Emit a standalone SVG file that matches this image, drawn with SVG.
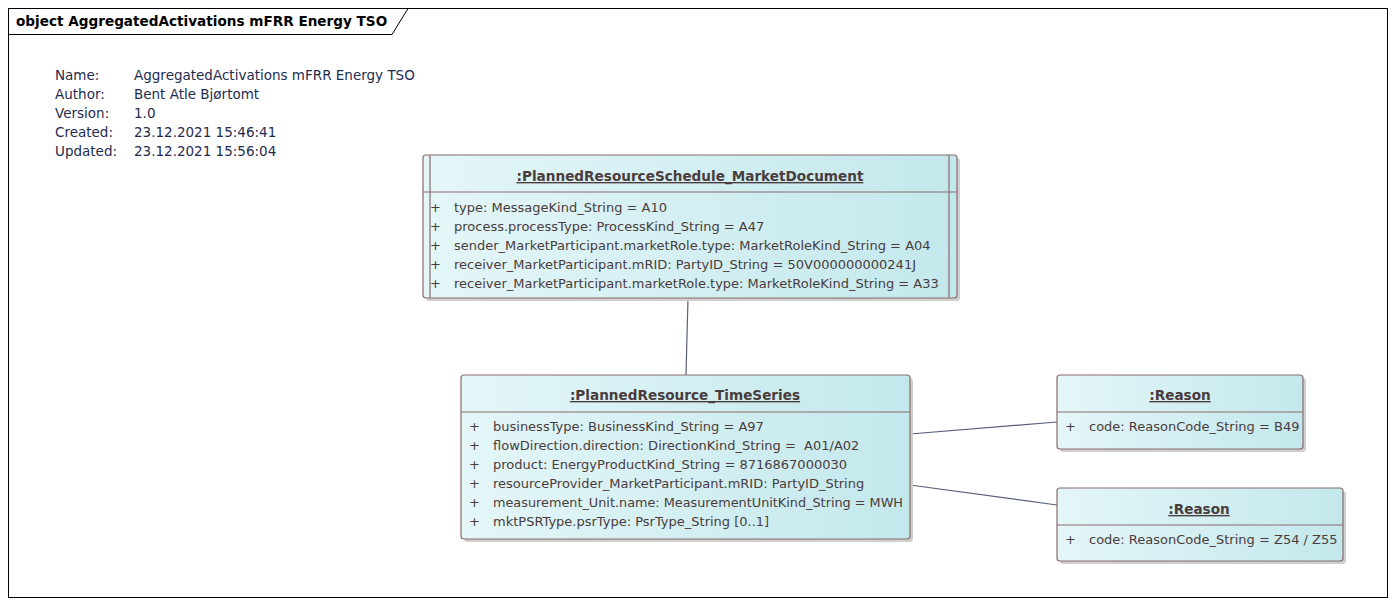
<svg xmlns="http://www.w3.org/2000/svg" width="1396" height="606" viewBox="0 0 1396 606">
<style>
.frame{fill:#fff;stroke:#000;stroke-width:1}
.title{font-family:"DejaVu Sans",sans-serif;font-size:13.6px;font-weight:bold;fill:#000}
.meta{font-family:"DejaVu Sans",sans-serif;font-size:13.5px;fill:#1e2c50}
.box{fill:url(#g);stroke:#8a6c6c;stroke-width:1.2}
.shadow{fill:#cfcfcf}
.div{stroke:#8a6c6c;stroke-width:1.2}
.hdr{font-family:"DejaVu Sans",sans-serif;font-size:13.6px;font-weight:bold;fill:#4a3c3c;text-anchor:middle;text-decoration:underline}
.attr{font-family:"DejaVu Sans",sans-serif;font-size:13px;fill:#4a3c3c}
.conn{stroke:#56607a;stroke-width:1.2;fill:none}
</style>
<defs>
<linearGradient id="g" x1="0" y1="0" x2="1" y2="0">
<stop offset="0" stop-color="#e4f6f8"/>
<stop offset="1" stop-color="#c3e8ec"/>
</linearGradient>
</defs>
<rect x="0" y="0" width="1396" height="606" fill="#fff"/>
<g id="frame">
<rect class="frame" x="8.5" y="8.5" width="1379" height="589"/>
<path d="M8.5 34.5 H392 L408 8.5" fill="none" stroke="#000"/>
<text class="title" x="16" y="26">object AggregatedActivations mFRR Energy TSO</text>
</g>
<g id="metadata">
<text class="meta" x="55" y="80">Name:</text>
<text class="meta" x="134" y="80">AggregatedActivations mFRR Energy TSO</text>
<text class="meta" x="55" y="99">Author:</text>
<text class="meta" x="134" y="99">Bent Atle Bjørtomt</text>
<text class="meta" x="55" y="118">Version:</text>
<text class="meta" x="134" y="118">1.0</text>
<text class="meta" x="55" y="137">Created:</text>
<text class="meta" x="134" y="137">23.12.2021 15:46:41</text>
<text class="meta" x="55" y="156">Updated:</text>
<text class="meta" x="134" y="156">23.12.2021 15:56:04</text>
</g>
<g id="connectors">
<line class="conn" x1="688" y1="298" x2="686" y2="375"/>
<line class="conn" x1="910" y1="434" x2="1057" y2="422"/>
<line class="conn" x1="910" y1="485" x2="1057" y2="505"/>
</g>
<g id="node-marketdocument">
<rect class="shadow" x="426" y="158" width="534" height="143" rx="3"/>
<rect class="box" x="423" y="155" width="534" height="143" rx="3"/>
<line class="div" x1="430" y1="155" x2="430" y2="298"/>
<line class="div" x1="949" y1="155" x2="949" y2="298"/>
<line class="div" x1="423" y1="192" x2="957" y2="192"/>
<text class="hdr" x="690" y="181">:PlannedResourceSchedule_MarketDocument</text>
<text class="attr" x="430" y="212">+</text><text class="attr" x="454" y="212">type: MessageKind_String = A10</text>
<text class="attr" x="430" y="231">+</text><text class="attr" x="454" y="231">process.processType: ProcessKind_String = A47</text>
<text class="attr" x="430" y="250">+</text><text class="attr" x="454" y="250">sender_MarketParticipant.marketRole.type: MarketRoleKind_String = A04</text>
<text class="attr" x="430" y="269">+</text><text class="attr" x="454" y="269">receiver_MarketParticipant.mRID: PartyID_String = 50V000000000241J</text>
<text class="attr" x="430" y="288">+</text><text class="attr" x="454" y="288">receiver_MarketParticipant.marketRole.type: MarketRoleKind_String = A33</text>
</g>
<g id="node-timeseries">
<rect class="shadow" x="464" y="378" width="449" height="164" rx="3"/>
<rect class="box" x="461" y="375" width="449" height="164" rx="3"/>
<line class="div" x1="461" y1="412" x2="910" y2="412"/>
<text class="hdr" x="685" y="400">:PlannedResource_TimeSeries</text>
<text class="attr" x="469" y="431">+</text><text class="attr" x="493" y="431">businessType: BusinessKind_String = A97</text>
<text class="attr" x="469" y="450">+</text><text class="attr" x="493" y="450">flowDirection.direction: DirectionKind_String =&#160; A01/A02</text>
<text class="attr" x="469" y="469">+</text><text class="attr" x="493" y="469">product: EnergyProductKind_String = 8716867000030</text>
<text class="attr" x="469" y="488">+</text><text class="attr" x="493" y="488">resourceProvider_MarketParticipant.mRID: PartyID_String</text>
<text class="attr" x="469" y="507">+</text><text class="attr" x="493" y="507" textLength="410" lengthAdjust="spacingAndGlyphs">measurement_Unit.name: MeasurementUnitKind_String = MWH</text>
<text class="attr" x="469" y="526">+</text><text class="attr" x="493" y="526">mktPSRType.psrType: PsrType_String [0..1]</text>
</g>
<g id="node-reason1">
<rect class="shadow" x="1060" y="378" width="246" height="74" rx="3"/>
<rect class="box" x="1057" y="375" width="246" height="74" rx="3"/>
<line class="div" x1="1057" y1="412" x2="1303" y2="412"/>
<text class="hdr" x="1180" y="400">:Reason</text>
<text class="attr" x="1065" y="431">+</text><text class="attr" x="1089" y="431">code: ReasonCode_String = B49</text>
</g>
<g id="node-reason2">
<rect class="shadow" x="1060" y="491" width="286" height="73" rx="3"/>
<rect class="box" x="1057" y="488" width="286" height="73" rx="3"/>
<line class="div" x1="1057" y1="525" x2="1343" y2="525"/>
<text class="hdr" x="1199" y="514">:Reason</text>
<text class="attr" x="1065" y="544">+</text><text class="attr" x="1089" y="544">code: ReasonCode_String = Z54 / Z55</text>
</g>
</svg>
